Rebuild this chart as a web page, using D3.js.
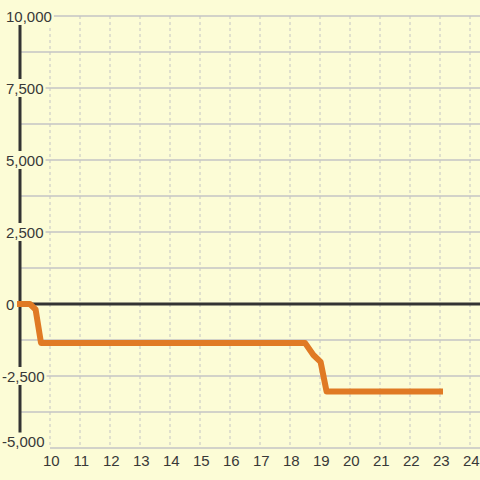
<!DOCTYPE html>
<html><head><meta charset="utf-8">
<script src="https://cdn.jsdelivr.net/npm/d3@7"></script>
<style>html,body{margin:0;padding:0;background:#fcfcd6;}svg{display:block;}</style>
</head><body>
<script>
const xValues = [9, 9.33, 9.52, 9.7, 18.5, 18.78, 19.02, 19.22, 23];
const yValues = [0, 0, -190, -1350, -1350, -1770, -2010, -3040, -3040];
const xTicks = [10, 11, 12, 13, 14, 15, 16, 17, 18, 19, 20, 21, 22, 23, 24];
const yTicks = [10000, 7500, 5000, 2500, 0, -2500, -5000];
const yTickLabels = ["10,000", "7,500", "5,000", "2,500", "0", "-2,500", "-5,000"];
const yMinorGrid = [8750, 6250, 3750, 1250, -1250, -3750];

const W = 480, H = 480;
const bg = "#fcfcd6";
const svg = d3.select("body").append("svg").attr("width", W).attr("height", H);
svg.append("rect").attr("width", W).attr("height", H).attr("fill", bg);

const x = d3.scaleLinear().domain([9, 24]).range([20, 470]);
const y = d3.scaleLinear().domain([-5000, 10000]).range([448, 16]);

// vertical dashed grid
svg.append("g").selectAll("line").data(xTicks).join("line")
  .attr("x1", d => x(d)).attr("x2", d => x(d))
  .attr("y1", y(10000)).attr("y2", y(-5000))
  .attr("stroke", "#c4c4c4").attr("stroke-width", 1).attr("stroke-dasharray", "3,3");

// horizontal grid
const allH = yTicks.concat(yMinorGrid).filter(v => v !== 0);
svg.append("g").selectAll("line").data(allH).join("line")
  .attr("x1", d => d === -5000 ? x(10) : x(9)).attr("x2", W)
  .attr("y1", d => y(d)).attr("y2", d => y(d))
  .attr("stroke", "#c4c4c4").attr("stroke-width", 1.3);

// zero line
svg.append("line").attr("x1", x(9)).attr("x2", W).attr("y1", y(0)).attr("y2", y(0))
  .attr("stroke", "#333").attr("stroke-width", 3);
// y axis line
svg.append("line").attr("x1", x(9)).attr("x2", x(9)).attr("y1", y(10000)).attr("y2", y(-5000))
  .attr("stroke", "#333").attr("stroke-width", 3);

// data line
const data = xValues.map((v, i) => [v, yValues[i]]);
svg.append("path").datum(data)
  .attr("d", d3.line().x(d => x(d[0])).y(d => y(d[1])))
  .attr("fill", "none").attr("stroke", "#e07a24").attr("stroke-width", 6)
  .attr("stroke-linecap", "square").attr("stroke-linejoin", "round");

// y labels with background
const font = "'Liberation Sans', Arial, sans-serif";
const yl = svg.append("g");
yTicks.forEach((v, i) => {
  const g = yl.append("g");
  const t = g.append("text").text(yTickLabels[i])
    .attr("x", v < 0 ? 2 : 6)
    .attr("y", Math.min(y(v), 441.5))
    .attr("dominant-baseline", "central")
    .attr("font-family", font).attr("font-size", 15).attr("fill", "#383838");
  const b = t.node().getBBox();
  g.insert("rect", "text").attr("x", b.x - 2).attr("y", b.y - 0.5)
    .attr("width", b.width + 4).attr("height", b.height + 1).attr("fill", bg);
});

// x labels
svg.append("g").selectAll("text").data(xTicks).join("text")
  .attr("x", d => x(d) + 1.3).attr("y", 460.5)
  .attr("text-anchor", "middle").attr("dominant-baseline", "central")
  .attr("font-family", font).attr("font-size", 15).attr("fill", "#383838")
  .text(d => d);
</script>
</body></html>
